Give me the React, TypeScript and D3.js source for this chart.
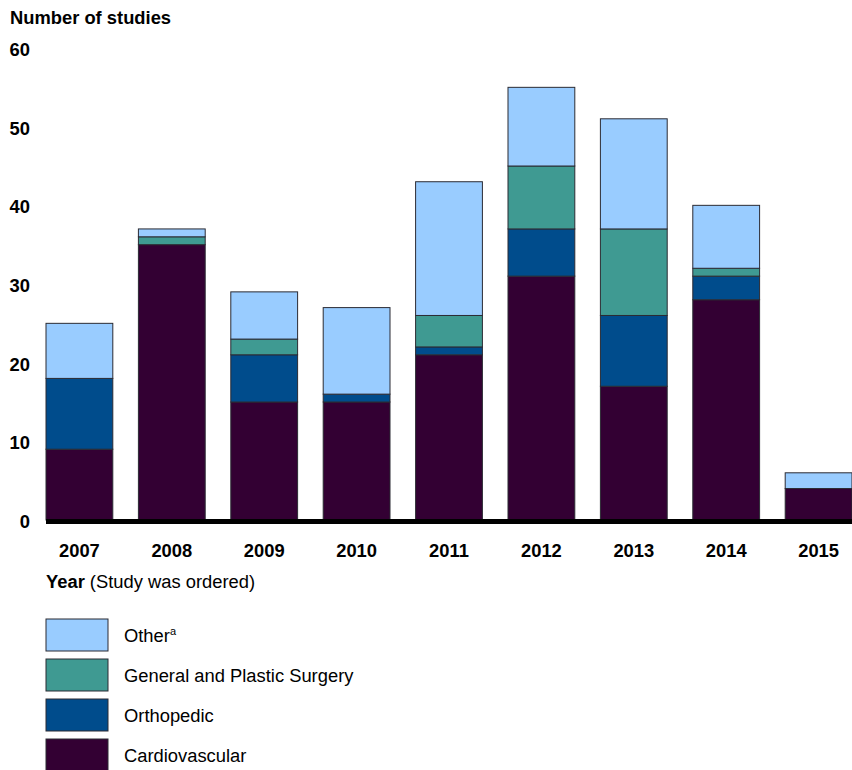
import React from "react";
import * as d3 from "d3";

const years = ["2007", "2008", "2009", "2010", "2011", "2012", "2013", "2014", "2015"];
const cardiovascular = [9, 35, 15, 15, 21, 31, 17, 28, 4];
const orthopedic = [9, 0, 6, 1, 1, 6, 9, 3, 0];
const generalPlastic = [0, 1, 2, 0, 4, 8, 11, 1, 0];
const other = [7, 1, 6, 11, 17, 10, 14, 8, 2];
const yTicks = [0, 10, 20, 30, 40, 50, 60];

const seriesKeys = ["cardio", "ortho", "general", "other"];
const seriesColors: Record<string, string> = {
  cardio: "#330033",
  ortho: "#004C8C",
  general: "#3F9A92",
  other: "#99CCFF",
};
const legendItems = [
  { key: "other", label: "Other", sup: "a" },
  { key: "general", label: "General and Plastic Surgery", sup: "" },
  { key: "ortho", label: "Orthopedic", sup: "" },
  { key: "cardio", label: "Cardiovascular", sup: "" },
];

export default function App() {
  const W = 852, H = 770;
  const font = "Liberation Sans, Arial, sans-serif";
  const fs = 18.35;
  const rows = years.map((y, i) => ({
    year: y,
    cardio: cardiovascular[i],
    ortho: orthopedic[i],
    general: generalPlastic[i],
    other: other[i],
  }));
  const stacked = d3.stack<any>().keys(seriesKeys)(rows);
  const x = d3.scaleBand<string>().domain(years).range([46, 852]).paddingInner(0.277).paddingOuter(0);
  const y = d3.scaleLinear().domain([0, 60]).range([520, 48]);

  return (
    <svg width={W} height={H} style={{ position: "absolute", left: 0, top: 0, background: "#fff" }}>
      <text x={10} y={24} fontFamily={font} fontWeight="bold" fontSize={fs} fill="#000">
        Number of studies
      </text>
      {yTicks.map((t) => (
        <text key={t} x={30} y={y(t) + 8} textAnchor="end" fontFamily={font} fontWeight="bold" fontSize={fs} fill="#000">
          {t}
        </text>
      ))}
      {stacked.map((s) =>
        s.map((d, i) => {
          const h = y(d[0]) - y(d[1]);
          if (h <= 0) return null;
          return (
            <rect
              key={s.key + i}
              x={x(years[i])!}
              y={y(d[1])}
              width={x.bandwidth()}
              height={h}
              fill={seriesColors[s.key]}
              stroke="#2b2b33"
              strokeWidth={1}
            />
          );
        })
      )}
      <rect x={46} y={519} width={W - 46} height={5} fill="#000" />
      {years.map((yr) => (
        <text key={yr} x={x(yr)! + x.bandwidth() / 2} y={557} textAnchor="middle" fontFamily={font} fontWeight="bold" fontSize={fs} fill="#000">
          {yr}
        </text>
      ))}
      <text x={46} y={588} fontFamily={font} fontSize={fs} fill="#000">
        <tspan fontWeight="bold">Year</tspan>
        <tspan> (Study was ordered)</tspan>
      </text>
      {legendItems.map((it, i) => (
        <g key={it.key} transform={`translate(46, ${619 + i * 40})`}>
          <rect x={0} y={0} width={62} height={32} fill={seriesColors[it.key]} stroke="#2b2b33" strokeWidth={1} />
          <text x={78} y={23} fontFamily={font} fontSize={fs} fill="#000">
            {it.label}
            {it.sup && (
              <tspan fontSize={11} dy={-7}>
                {it.sup}
              </tspan>
            )}
          </text>
        </g>
      ))}
    </svg>
  );
}
